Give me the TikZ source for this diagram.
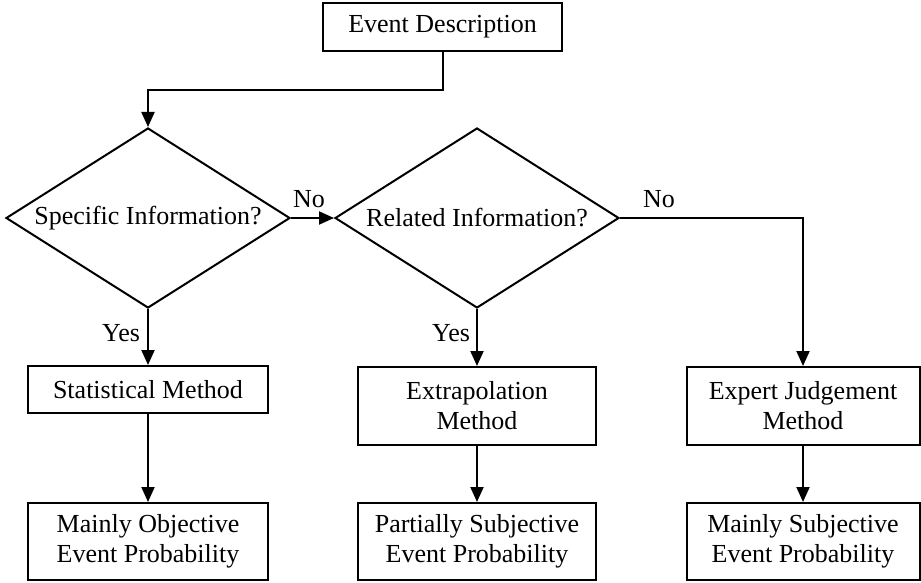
\documentclass[tikz,border=0pt]{standalone}
\usepackage{fontspec}
\setmainfont{Liberation Serif}
\usetikzlibrary{shapes.geometric,arrows.meta}
\tikzset{
  box/.style={draw, line width=2pt, inner sep=0pt, align=center, font=\fontsize{26}{30}\selectfont},
  dia/.style={draw, diamond, aspect=1.58, line width=2pt, inner sep=0pt, minimum width=284pt, minimum height=180pt, font=\fontsize{26}{30}\selectfont},
  arr/.style={line width=2pt, -{Triangle[length=15pt,width=13pt]}},
  lbl/.style={inner sep=0pt, font=\fontsize{26}{30}\selectfont}
}
\begin{document}
\begin{tikzpicture}[x=1pt,y=-1pt]
\useasboundingbox (0,0) rectangle (921,583);
\node[box, minimum width=239pt, minimum height=48pt] (ev) at (442.5,27) {Event Description};
\node[dia] (d1) at (148,218) {Specific Information?};
\node[dia] (d2) at (477,218) {Related Information?};
\node[box, minimum width=240pt, minimum height=47pt] (st) at (148,389.5) {Statistical Method};
\node[box, minimum width=238pt, minimum height=78pt] (ex) at (477,406) {Extrapolation\\Method};
\node[box, minimum width=233pt, minimum height=78pt] (ej) at (803,406) {Expert Judgement\\Method};
\node[box, minimum width=240pt, minimum height=77pt] (mo) at (148,541.5) {Mainly Objective\\Event Probability};
\node[box, minimum width=238pt, minimum height=77pt] (ps) at (477,541.5) {Partially Subjective\\Event Probability};
\node[box, minimum width=233pt, minimum height=77pt] (ms) at (803,541.5) {Mainly Subjective\\Event Probability};
\node[lbl] (no1) at (309,199) {No};
\node[lbl] (no2) at (659,199) {No};
\node[lbl] (y1) at (121,333) {Yes};
\node[lbl] (y2) at (451,333) {Yes};
\draw[arr] (ev.south) -- ++(0,38) -| (d1.north);
\draw[arr] (d1.east) -- (d2.west);
\draw[arr] (d2.east) -| (ej.north);
\draw[arr] (d1.south) -- (st.north);
\draw[arr] (d2.south) -- (ex.north);
\draw[arr] (st.south) -- (mo.north);
\draw[arr] (ex.south) -- (ps.north);
\draw[arr] (ej.south) -- (ms.north);
\end{tikzpicture}
\end{document}
